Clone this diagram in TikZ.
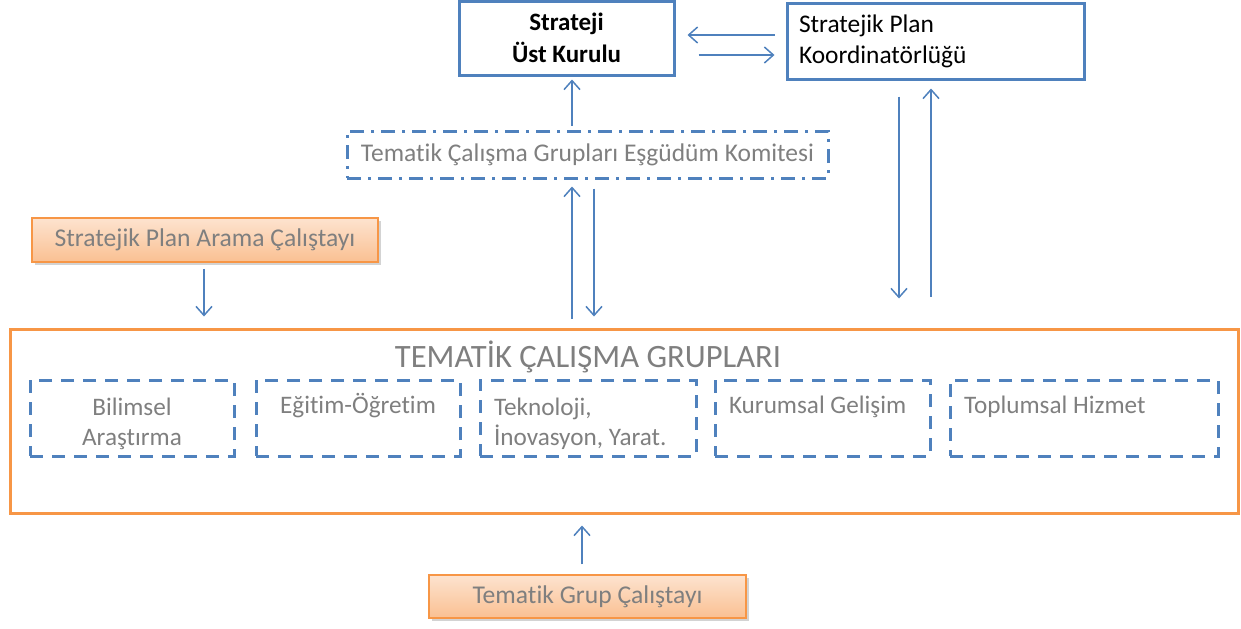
\documentclass[tikz,border=0pt]{standalone}
\usepackage{fontspec}
\setmainfont{Carlito}[Ligatures=NoCommon]
\usetikzlibrary{arrows.meta,calc,shadows}
\definecolor{bl}{HTML}{4F81BD}
\definecolor{tx}{HTML}{7F7F7F}
\definecolor{orb}{HTML}{F79646}
\definecolor{ort}{HTML}{FDE3CF}
\definecolor{orm}{HTML}{FAC092}
\newdimen\pu \pu=0.5pt
\newcommand\firstln{\rule{0pt}{15pt}}
\tikzset{
  arr/.style={draw=bl, line width=0.75pt, -{Straight Barb[length=4.5pt,width=8pt,line width=0.75pt]}},
  solidbox/.style={draw=bl, line width=3\pu, fill=white, inner sep=6\pu},
  dashbox/.style={draw=bl, line width=3\pu, dash pattern=on 13\pu off 9\pu, inner xsep=14\pu, inner ysep=1\pu, text=tx, font=\fontsize{12.6pt}{15pt}\selectfont},
  orbox/.style={draw=orb, line width=1.5\pu, top color=ort, bottom color=orm, drop shadow={opacity=0.35, shadow xshift=1.5pt, shadow yshift=-1.5pt}, text=tx, font=\fontsize{12.8pt}{15pt}\selectfont}
}
\begin{document}
\begin{tikzpicture}[x=1\pu,y=-1\pu]
\useasboundingbox (0,0) rectangle (1241,628);
% top boxes
\node[solidbox, minimum width=215\pu, minimum height=74\pu, align=center, font=\fontsize{12.5pt}{16pt}\selectfont\bfseries] (strateji) at (566.5,38) {Strateji\\Üst Kurulu};
\node[solidbox, minimum width=297\pu, minimum height=76\pu, text width=273\pu, align=flush left, font=\fontsize{12.7pt}{15.5pt}\selectfont] (koord) at (935.5,41) {Stratejik Plan\\Koordinatörlüğü};
% committee
\node[draw=bl, line width=3\pu, dash pattern=on 14\pu off 7\pu on 3\pu off 7\pu, minimum width=481\pu, minimum height=47\pu, text=tx, font=\fontsize{12.75pt}{15pt}\selectfont] (komite) at (587.5,154.5) {Tematik Çalışma Grupları Eşgüdüm Komitesi};
% workshops
\node[orbox, minimum width=346\pu, minimum height=44\pu] (arama) at (205,240) {Stratejik Plan Arama Çalıştayı};
\node[orbox, minimum width=317\pu, minimum height=43\pu] (tgc) at (587.5,596.5) {Tematik Grup Çalıştayı};
% big box
\node[draw=orb, line width=3\pu, minimum width=1228\pu, minimum height=184\pu] (tcg) at (624,421) {};
\node[text=tx, font=\fontsize{16.3pt}{19pt}\selectfont] (title) at (588,357) {TEMATİK ÇALIŞMA GRUPLARI};
\node[dashbox, minimum width=204\pu, minimum height=76\pu, text width=176\pu, align=center] (d1) at (132,418) {\firstln Bilimsel\\Araştırma};
\node[dashbox, minimum width=204\pu, minimum height=76\pu, text width=176\pu, align=center] (d2) at (358,418) {\firstln Eğitim-Öğretim\\\strut};
\node[dashbox, minimum width=214\pu, minimum height=76\pu, text width=188\pu, align=flush left] (d3) at (588,418) {\firstln Teknoloji,\\İnovasyon, Yarat.};
\node[dashbox, minimum width=215\pu, minimum height=76\pu, text width=187\pu, align=flush left] (d4) at (822.5,418) {\firstln Kurumsal Gelişim\\\strut};
\node[dashbox, minimum width=268\pu, minimum height=76\pu, text width=240\pu, align=flush left] (d5) at (1084,418) {\firstln Toplumsal Hizmet\\\strut};
% connectors
\draw[arr] ($(koord.west)+(-11,-6)$) -- ($(strateji.east)+(12,-3)$);
\draw[arr] ($(strateji.east)+(23,17)$) -- ($(koord.west)+(-11,14)$);
\draw[arr] ($(komite.north)+(-15.5,-4)$) -- ($(strateji.south)+(5.5,3)$);
\draw[arr] ($(koord.south)+(-36.5,16)$) -- ($(tcg.north)+(275,-29)$);
\draw[arr] ($(tcg.north)+(307,-31)$) -- ($(koord.south)+(-4.5,8)$);
\draw[arr] ($(tcg.north)+(-52,-9)$) -- ($(komite.south)+(-15.5,7)$);
\draw[arr] ($(komite.south)+(6.5,9)$) -- ($(tcg.north)+(-30,-11)$);
\draw[arr] ($(arama.south)+(-1,6)$) -- ($(tcg.north)+(-420,-11)$);
\draw[arr] ($(tgc.north)+(-5.5,-10)$) -- ($(tcg.south)+(-42,11)$);
\end{tikzpicture}
\end{document}
